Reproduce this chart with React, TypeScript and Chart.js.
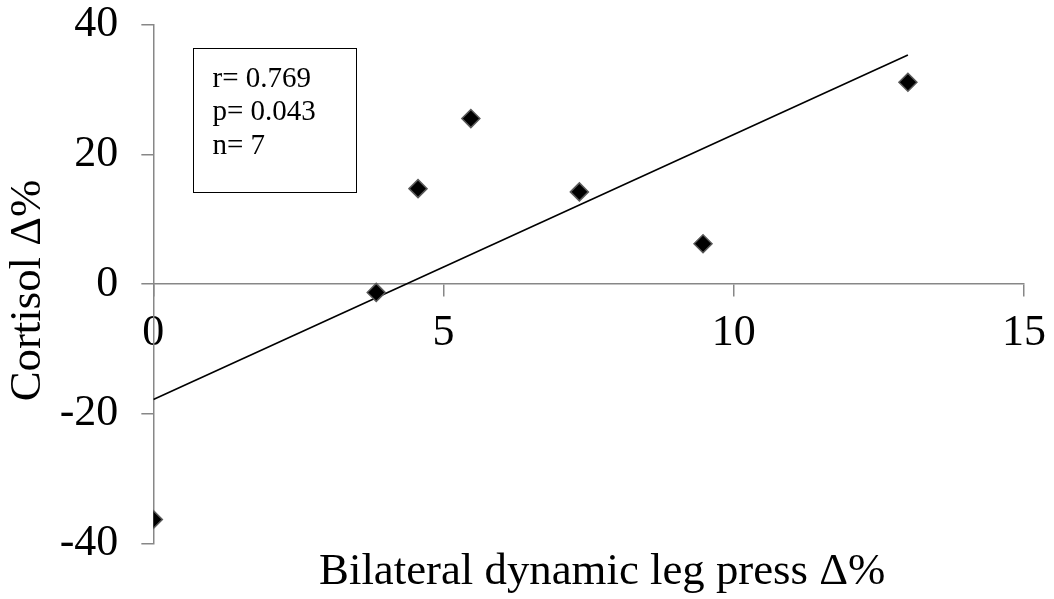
import React, { useEffect, useRef } from 'react';
import { Chart, registerables } from 'chart.js';

Chart.register(...registerables);

// ---- data ----
const legPressDelta = [0, 3.84, 4.56, 5.47, 7.34, 9.47, 13.0];
const cortisolDelta = [-36.3, -1.3, 14.7, 25.5, 14.2, 6.2, 31.1];
const trendX = [0, 13.0];
const trendY = [-17.8, 35.3];
const xTicks = [0, 5, 10, 15];
const yTicks = [-40, -20, 0, 20, 40];
const statLines = ['r= 0.769', 'p= 0.043', 'n= 7'];
const statBoxX = [0.69, 3.49];
const statBoxY = [14.2, 36.4];
const xTitle = 'Bilateral dynamic leg press Δ%';
const yTitle = 'Cortisol Δ%';

const SERIF = '"Liberation Serif", "Times New Roman", serif';
const AXIS_GRAY = '#878787';

const annotationPlugin = {
  id: 'annotations',
  afterDatasetsDraw(chart: any) {
    const { ctx, scales, chartArea } = chart;
    const x = scales.x;
    const y = scales.y;
    // stats box
    const l = Math.round(x.getPixelForValue(statBoxX[0])) + 0.5;
    const r = Math.round(x.getPixelForValue(statBoxX[1])) + 0.5;
    const t = Math.round(y.getPixelForValue(statBoxY[1])) + 0.5;
    const b = Math.round(y.getPixelForValue(statBoxY[0])) + 0.5;
    ctx.save();
    ctx.strokeStyle = '#000';
    ctx.lineWidth = 1;
    ctx.strokeRect(l, t, r - l, b - t);
    ctx.font = `29px ${SERIF}`;
    ctx.fillStyle = '#000';
    ctx.textBaseline = 'alphabetic';
    ctx.textAlign = 'left';
    statLines.forEach((s, i) => ctx.fillText(s, l + 19, t + 38 + i * 33.5));

    // axis titles
    ctx.font = `44.8px ${SERIF}`;
    ctx.textAlign = 'center';
    ctx.textBaseline = 'middle';
    const cx = (chartArea.left + chartArea.right) / 2 + 13.5;
    ctx.fillText(xTitle, cx, chartArea.bottom + 29);

    ctx.translate(chartArea.left - 125.3, (chartArea.top + chartArea.bottom) / 2 + 6.5);
    ctx.rotate(-Math.PI / 2);
    ctx.fillText(yTitle, 0, 0);
    ctx.restore();
  },
};

export default function App() {
  const ref = useRef<HTMLCanvasElement>(null);

  useEffect(() => {
    if (!ref.current) return;
    const chart = new Chart(ref.current, {
      type: 'scatter',
      data: {
        datasets: [
          {
            label: 'trend',
            data: trendX.map((v, i) => ({ x: v, y: trendY[i] })),
            showLine: true,
            borderColor: '#000',
            borderWidth: 1.6,
            pointRadius: 0,
            fill: false,
            order: 2,
          } as any,
          {
            label: 'points',
            data: legPressDelta.map((v, i) => ({ x: v, y: cortisolDelta[i] })),
            pointStyle: 'rectRot',
            pointRadius: 9,
            backgroundColor: '#000',
            borderColor: '#5a5a5a',
            borderWidth: 1.5,
            showLine: false,
            order: 1,
          } as any,
        ],
      },
      options: {
        responsive: false,
        animation: false,
        devicePixelRatio: 1,
        layout: { padding: { left: 36.7, right: 30, top: 24.5, bottom: 55.5 } },
        plugins: {
          legend: { display: false },
          tooltip: { enabled: false },
        },
        scales: {
          x: {
            type: 'linear',
            position: { y: 0 } as any,
            min: 0,
            max: 15,
            afterBuildTicks: (s: any) => {
              s.ticks = xTicks.map((v) => ({ value: v }));
            },
            ticks: {
              color: '#000',
              font: { family: SERIF, size: 44, lineHeight: 1.705 },
              padding: 0,
              maxRotation: 0,
            },
            grid: {
              display: true,
              drawOnChartArea: false,
              drawTicks: true,
              tickLength: 12,
              color: AXIS_GRAY,
              lineWidth: 1.5,
            },
            border: { display: true, color: AXIS_GRAY, width: 1.5 },
          },
          y: {
            type: 'linear',
            position: 'left',
            min: -40,
            max: 40,
            afterBuildTicks: (s: any) => {
              s.ticks = yTicks.map((v) => ({ value: v }));
            },
            ticks: {
              color: '#000',
              font: { family: SERIF, size: 44, lineHeight: 0.06 },
              padding: 23,
            },
            grid: {
              display: true,
              drawOnChartArea: false,
              drawTicks: true,
              tickLength: 12,
              color: AXIS_GRAY,
              lineWidth: 1.5,
            },
            border: { display: true, color: AXIS_GRAY, width: 1.5 },
          },
        },
      } as any,
      plugins: [annotationPlugin],
    });
    return () => chart.destroy();
  }, []);

  return (
    <div style={{ position: 'fixed', left: 0, top: 0, width: 1054, height: 599, background: '#fff' }}>
      <canvas ref={ref} width={1054} height={599} style={{ display: 'block', width: 1054, height: 599 }} />
    </div>
  );
}
